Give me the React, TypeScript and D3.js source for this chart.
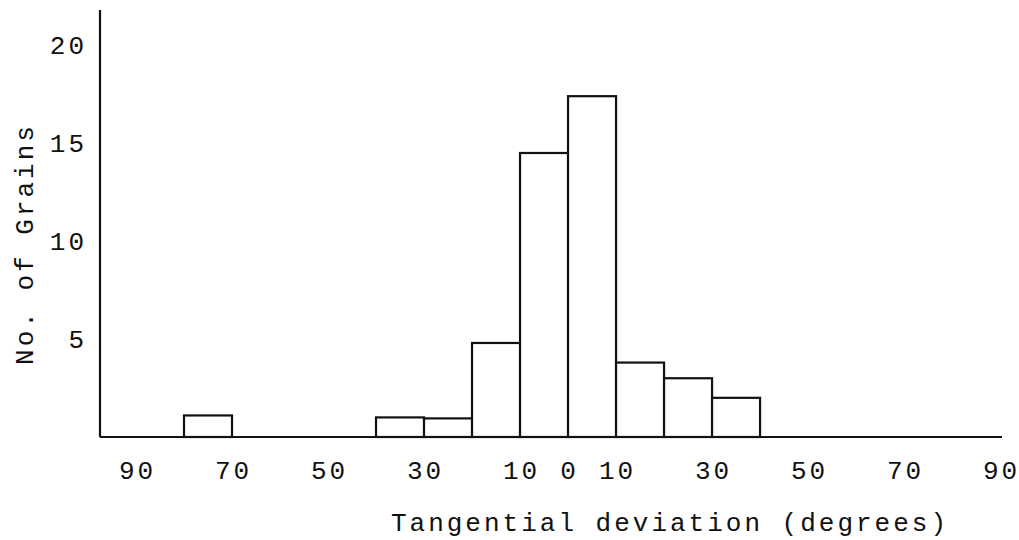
import React from "react";
import * as d3 from "d3";

// Histogram bins (degrees, lower edge) and counts
const binStarts = [-90, -80, -70, -60, -50, -40, -30, -20, -10, 0, 10, 20, 30, 40, 50, 60, 70, 80];
const counts = [0, 1.1, 0, 0, 0, 1.0, 0.95, 4.8, 14.5, 17.4, 3.8, 3.0, 2.0, 0, 0, 0, 0, 0];
const binWidth = 10;
const xTicks = [-90, -70, -50, -30, -10, 0, 10, 30, 50, 70, 90];
const yTicks = [5, 10, 15, 20];
const xTitle = "Tangential deviation (degrees)";
const yTitle = "No. of Grains";

const W = 1019;
const H = 540;
const FONT = "'Liberation Mono', 'Courier New', monospace";
const FS = 26;
const LS = 3;

export default function App() {
  const x = d3.scaleLinear().domain([-97.5, 90.4]).range([100, 1002]);
  const y = d3.scaleLinear().domain([0, 21.8]).range([437, 10]);

  const bars = binStarts
    .map((s, i) => ({ s, v: counts[i] }))
    .filter((d) => d.v > 0);

  const textProps = {
    fontFamily: FONT,
    fontSize: FS,
    letterSpacing: LS,
    fill: "#111",
  };

  return (
    <svg
      width={W}
      height={H}
      viewBox={`0 0 ${W} ${H}`}
      style={{ position: "absolute", left: 0, top: 0, background: "#fff" }}
    >
      <rect x={0} y={0} width={W} height={H} fill="#fff" />
      {bars.map((d) => (
        <rect
          key={d.s}
          x={x(d.s)}
          y={y(d.v)}
          width={x(d.s + binWidth) - x(d.s)}
          height={y(0) - y(d.v)}
          fill="#fff"
          stroke="#111"
          strokeWidth={2.2}
        />
      ))}
      {/* axes */}
      <line x1={x.range()[0]} x2={x.range()[0]} y1={y.range()[1]} y2={y(0)} stroke="#111" strokeWidth={2.2} />
      <line x1={x.range()[0]} x2={x.range()[1]} y1={y(0)} y2={y(0)} stroke="#111" strokeWidth={2.2} />
      {yTicks.map((t) => (
        <text key={t} x={87} y={y(t) + 8.5} textAnchor="end" {...textProps}>
          {t}
        </text>
      ))}
      {xTicks.map((t) => (
        <text key={t} x={x(t) + LS / 2} y={478.5} textAnchor="middle" {...textProps}>
          {Math.abs(t)}
        </text>
      ))}
      <text x={670} y={531} textAnchor="middle" {...textProps}>
        {xTitle}
      </text>
      <text transform="translate(33,244) rotate(-90)" textAnchor="middle" {...textProps}>
        {yTitle}
      </text>
    </svg>
  );
}
